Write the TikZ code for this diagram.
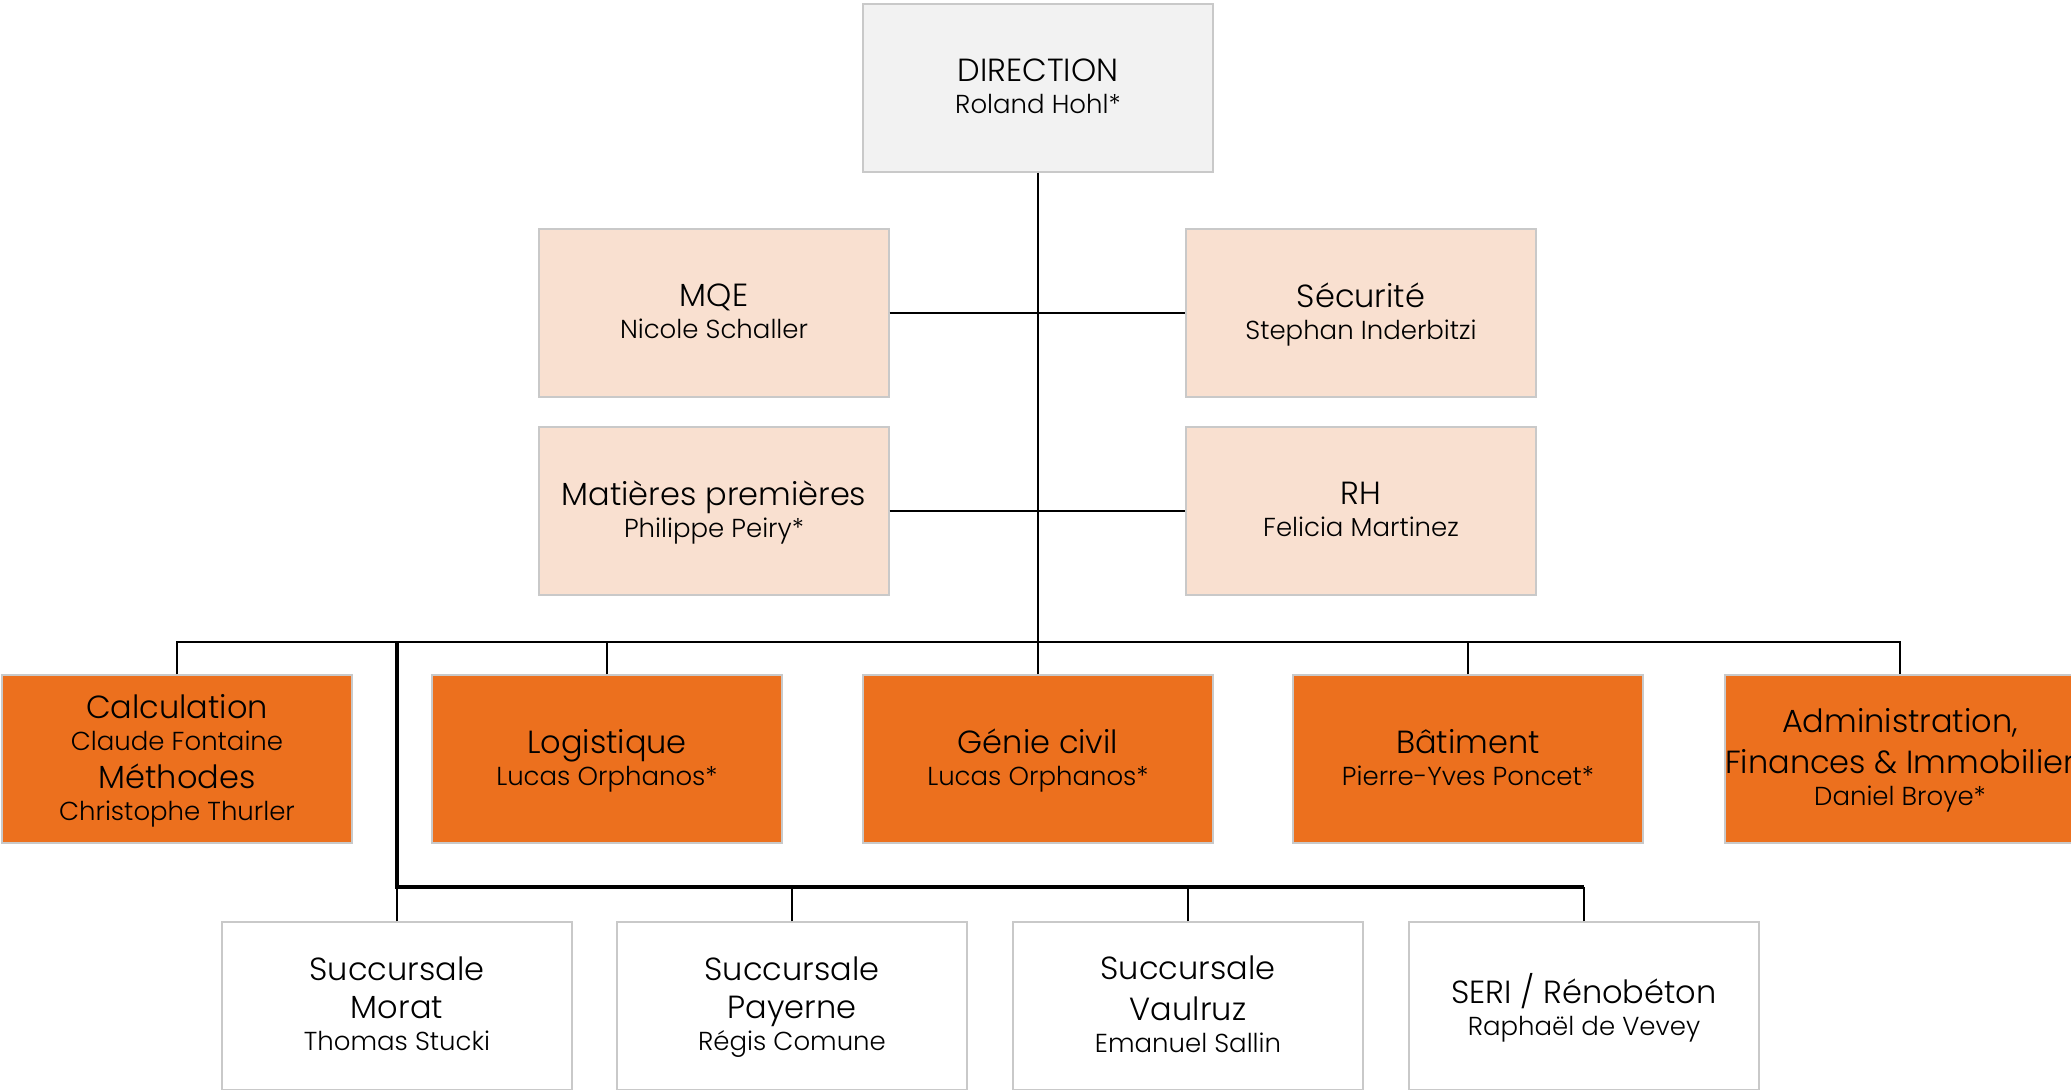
\documentclass[tikz,border=0pt]{standalone}
\usepackage{fontspec}
\setmainfont{Poppins}[UprightFont=* Light]
\definecolor{boxgray}{HTML}{F2F2F2}
\definecolor{peach}{HTML}{F9E0D0}
\definecolor{orng}{HTML}{EC701E}
\definecolor{edge}{HTML}{C9C9C9}
\newcommand{\Tt}[1]{{\fontsize{16}{16}\selectfont\rule[-4.8pt]{0pt}{14.2pt}#1}}
\newcommand{\Nn}[1]{{\fontsize{13}{16}\selectfont\rule[-2pt]{0pt}{13pt}\raisebox{0pt}[\height][0pt]{#1}}}
\begin{document}
\begin{tikzpicture}[x=0.5pt,y=-0.5pt,
  box/.style={draw=edge,line width=0.6pt,minimum width=175pt,minimum height=84pt,inner sep=0pt,align=center,font=\fontsize{13}{16}\selectfont,text=black},
  dirbox/.style={box,fill=boxgray},
  staffbox/.style={box,fill=peach},
  deptbox/.style={box,fill=orng},
  branchbox/.style={box,fill=white},
  link/.style={line width=1.3pt,black},
  tick/.style={line width=1pt,black},
  heavy/.style={line width=1.6pt,black}]
\useasboundingbox (0,0) rectangle (2071,1090);
% nodes
\node[dirbox] (dir) at (1038,88) {\Tt{DIRECTION}\\\Nn{Roland Hohl*}};
\node[staffbox] (mqe) at (714,313) {\Tt{MQE}\\\Nn{Nicole Schaller}};
\node[staffbox] (sec) at (1361,313) {\Tt{Sécurité}\\\Nn{Stephan Inderbitzi}};
\node[staffbox] (mat) at (714,511) {\Tt{Matières premières}\\\Nn{Philippe Peiry*}};
\node[staffbox] (rh) at (1361,511) {\Tt{RH}\\\Nn{Felicia Martinez}};
\node[deptbox] (calc) at (177,759) {\Tt{Calculation}\\\Nn{Claude Fontaine}\\[3pt]\Tt{Méthodes}\\\Nn{Christophe Thurler}};
\node[deptbox] (log) at (607,759) {\Tt{Logistique}\\\Nn{Lucas Orphanos*}};
\node[deptbox] (gen) at (1038,759) {\Tt{Génie civil}\\\Nn{Lucas Orphanos*}};
\node[deptbox] (bat) at (1468,759) {\Tt{Bâtiment}\\\Nn{Pierre-Yves Poncet*}};
\node[deptbox] (adm) at (1900,759) {\Tt{Administration,}\\[3pt]\Tt{Finances \& Immobilier}\\\Nn{Daniel Broye*}};
\node[branchbox] (mor) at (397,1006) {\Tt{Succursale}\\[3pt]\Tt{Morat}\\\Nn{Thomas Stucki}};
\node[branchbox] (pay) at (792,1006) {\Tt{Succursale}\\[3pt]\Tt{Payerne}\\\Nn{Régis Comune}};
\node[branchbox] (vau) at (1188,1006) {\Tt{Succursale}\\[3pt]\Tt{Vaulruz}\\\Nn{Emanuel Sallin}};
\node[branchbox] (ser) at (1584,1006) {\Tt{SERI / Rénobéton}\\\Nn{Raphaël de Vevey}};
% bus coordinates
\coordinate (busL) at (177,642);
\coordinate (busR) at (1900,642);
\coordinate (brTop) at (397,642);
\coordinate (brBus) at (397,887);
\coordinate (brEnd) at (1584,887);
% connectors
\draw[link] (dir.south) -- (dir.south |- busL);
\draw[link] (mqe.east) -- (sec.west);
\draw[link] (mat.east) -- (rh.west);
\draw[link] (calc.north) -- (busL) -- (busR) -- (adm.north);
\draw[tick] (log.north) -- (log.north |- busL);
\draw[tick] (gen.north) -- (gen.north |- busL);
\draw[tick] (bat.north) -- (bat.north |- busL);
\draw[heavy] (brTop) -- (brBus) -- (brEnd);
\draw[tick] (mor.north) -- (mor.north |- brBus);
\draw[tick] (pay.north) -- (pay.north |- brBus);
\draw[tick] (vau.north) -- (vau.north |- brBus);
\draw[tick] (ser.north) -- (ser.north |- brBus);
\end{tikzpicture}
\end{document}
